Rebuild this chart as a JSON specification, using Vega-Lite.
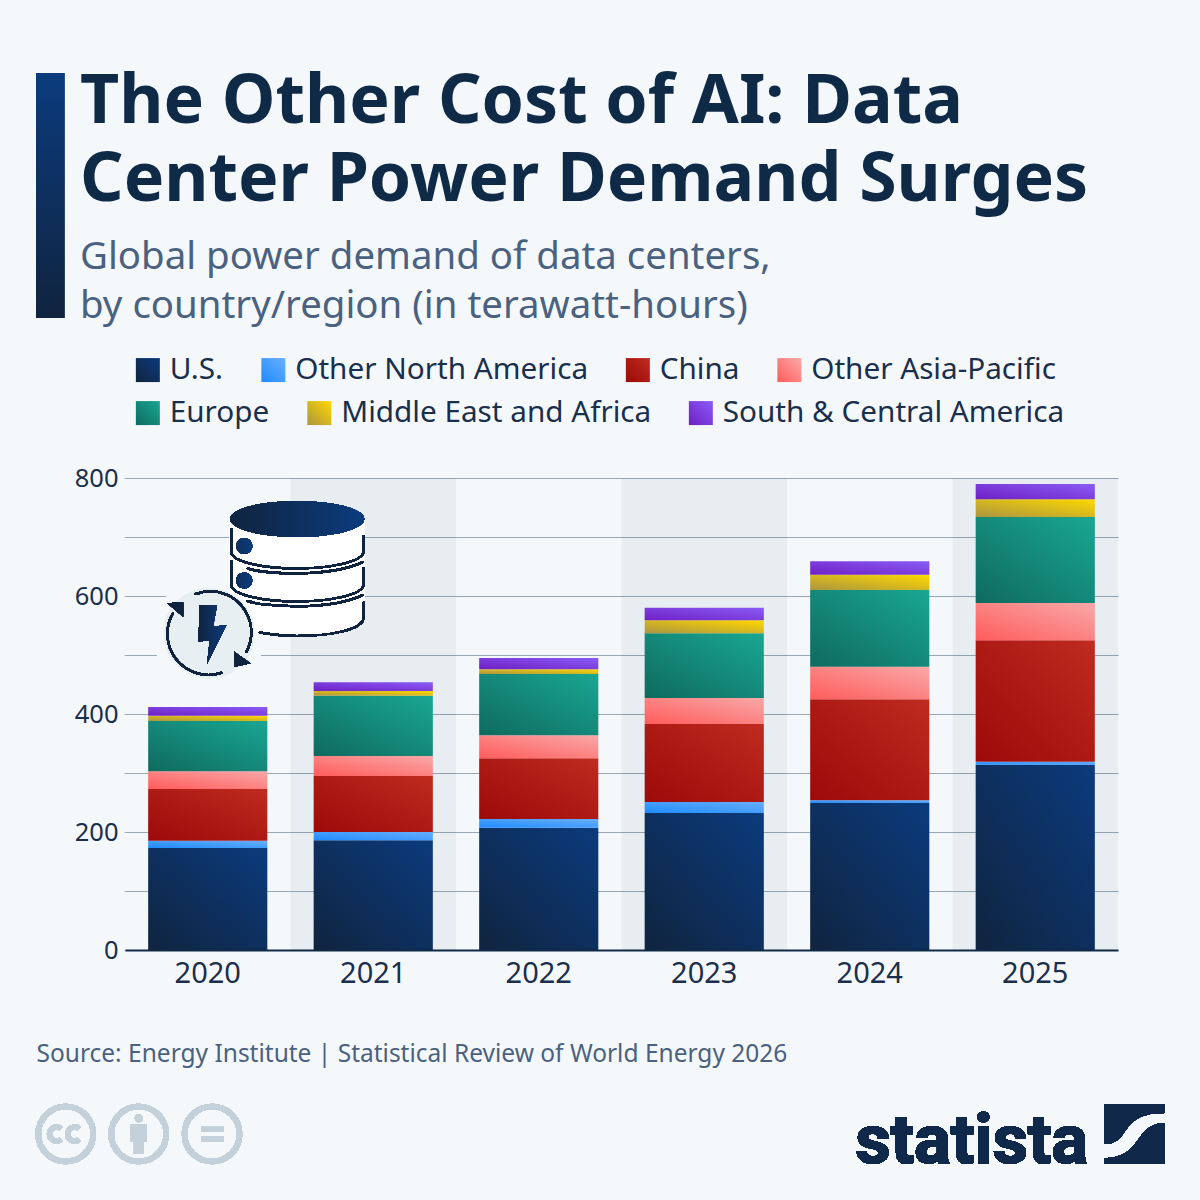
{
  "$schema": "https://vega.github.io/schema/vega-lite/v6.json",
  "width": 993,
  "height": 472,
  "autosize": "none",
  "padding": {"left": 125, "top": 478, "right": 82, "bottom": 250},
  "background": "#f5f8fb",
  "config": {"view": {"stroke": null}},
  "title": {
    "text": ["The Other Cost of AI: Data", "Center Power Demand Surges"],
    "subtitle": ["Global power demand of data centers,", "by country/region (in terawatt-hours)"],
    "anchor": "start",
    "frame": "group",
    "dx": -45,
    "dy": 280,
    "offset": 28,
    "font": "Noto Sans",
    "fontSize": 68,
    "fontWeight": "bold",
    "lineHeight": 78,
    "color": "#0f2a47",
    "subtitleFont": "Noto Sans",
    "subtitleFontSize": 38.4,
    "subtitleLineHeight": 48.5,
    "subtitleColor": "#4a6280",
    "subtitlePadding": 24
  },
  "datasets": {
    "bands": [{"year": "2021"}, {"year": "2023"}, {"year": "2025"}],
    "demand": [
      {"year": "2020", "region": "U.S.", "rank": 1, "twh": 173},
      {"year": "2020", "region": "Other North America", "rank": 2, "twh": 12},
      {"year": "2020", "region": "China", "rank": 3, "twh": 88},
      {"year": "2020", "region": "Other Asia-Pacific", "rank": 4, "twh": 30},
      {"year": "2020", "region": "Europe", "rank": 5, "twh": 85},
      {"year": "2020", "region": "Middle East and Africa", "rank": 6, "twh": 9},
      {"year": "2020", "region": "South & Central America", "rank": 7, "twh": 15},
      {"year": "2021", "region": "U.S.", "rank": 1, "twh": 186},
      {"year": "2021", "region": "Other North America", "rank": 2, "twh": 14},
      {"year": "2021", "region": "China", "rank": 3, "twh": 95},
      {"year": "2021", "region": "Other Asia-Pacific", "rank": 4, "twh": 34},
      {"year": "2021", "region": "Europe", "rank": 5, "twh": 102},
      {"year": "2021", "region": "Middle East and Africa", "rank": 6, "twh": 8},
      {"year": "2021", "region": "South & Central America", "rank": 7, "twh": 15},
      {"year": "2022", "region": "U.S.", "rank": 1, "twh": 207},
      {"year": "2022", "region": "Other North America", "rank": 2, "twh": 15},
      {"year": "2022", "region": "China", "rank": 3, "twh": 103},
      {"year": "2022", "region": "Other Asia-Pacific", "rank": 4, "twh": 39},
      {"year": "2022", "region": "Europe", "rank": 5, "twh": 104},
      {"year": "2022", "region": "Middle East and Africa", "rank": 6, "twh": 8},
      {"year": "2022", "region": "South & Central America", "rank": 7, "twh": 19},
      {"year": "2023", "region": "U.S.", "rank": 1, "twh": 232},
      {"year": "2023", "region": "Other North America", "rank": 2, "twh": 19},
      {"year": "2023", "region": "China", "rank": 3, "twh": 132},
      {"year": "2023", "region": "Other Asia-Pacific", "rank": 4, "twh": 44},
      {"year": "2023", "region": "Europe", "rank": 5, "twh": 110},
      {"year": "2023", "region": "Middle East and Africa", "rank": 6, "twh": 22},
      {"year": "2023", "region": "South & Central America", "rank": 7, "twh": 21},
      {"year": "2024", "region": "U.S.", "rank": 1, "twh": 249},
      {"year": "2024", "region": "Other North America", "rank": 2, "twh": 5},
      {"year": "2024", "region": "China", "rank": 3, "twh": 171},
      {"year": "2024", "region": "Other Asia-Pacific", "rank": 4, "twh": 55},
      {"year": "2024", "region": "Europe", "rank": 5, "twh": 130},
      {"year": "2024", "region": "Middle East and Africa", "rank": 6, "twh": 26},
      {"year": "2024", "region": "South & Central America", "rank": 7, "twh": 23},
      {"year": "2025", "region": "U.S.", "rank": 1, "twh": 314},
      {"year": "2025", "region": "Other North America", "rank": 2, "twh": 5},
      {"year": "2025", "region": "China", "rank": 3, "twh": 206},
      {"year": "2025", "region": "Other Asia-Pacific", "rank": 4, "twh": 63},
      {"year": "2025", "region": "Europe", "rank": 5, "twh": 146},
      {"year": "2025", "region": "Middle East and Africa", "rank": 6, "twh": 30},
      {"year": "2025", "region": "South & Central America", "rank": 7, "twh": 26}
    ]
  },
  "data": {"name": "demand"},
  "resolve": {"scale": {"color": "independent"}},
  "layer": [
    {
      "data": {"name": "bands"},
      "mark": {"type": "bar", "color": "#1c4a66", "opacity": 0.06},
      "encoding": {
        "x": {
          "field": "year",
          "type": "nominal",
          "scale": {"domain": ["2020", "2021", "2022", "2023", "2024", "2025"], "paddingInner": 0, "paddingOuter": 0},
          "axis": {
            "title": "Source: Energy Institute | Statistical Review of World Energy 2026",
            "titleFont": "Noto Sans",
            "titleFontSize": 24.5,
            "titleFontWeight": "normal",
            "titleColor": "#4a6280",
            "titleAlign": "left",
            "titleBaseline": "alphabetic",
            "titleX": -89,
            "titleY": 111,
            "labelFont": "Noto Sans",
            "labelFontSize": 29,
            "labelColor": "#1a2f4b",
            "labelAngle": 0,
            "labelPadding": 9,
            "ticks": false,
            "grid": false,
            "domainColor": "#0f2a47",
            "domainWidth": 2,
            "zindex": 1
          }
        },
        "y": {
          "datum": 800,
          "type": "quantitative",
          "scale": {"domain": [0, 800], "nice": false},
          "axis": {
            "title": null,
            "values": [0, 100, 200, 300, 400, 500, 600, 700, 800],
            "labelExpr": "datum.value % 200 == 0 ? datum.label : ''",
            "labelFont": "Noto Sans",
            "labelFontSize": 25.5,
            "labelColor": "#1a2f4b",
            "labelPadding": 6,
            "domain": false,
            "grid": true,
            "tickSize": 1,
            "tickColor": "#9aa7b5",
            "gridColor": "#9aa7b5",
            "gridWidth": 1
          }
        },
        "y2": {"datum": 0}
      }
    },
    {
      "transform": [
        {"stack": "twh", "groupby": ["year"], "sort": [{"field": "rank", "order": "ascending"}], "as": ["y0", "y1"]},
        {"filter": "datum.rank <= 4"}
      ],
      "mark": {"type": "bar", "width": {"band": 0.72}},
      "encoding": {
        "x": {"field": "year", "type": "nominal"},
        "y": {"field": "y0", "type": "quantitative"},
        "y2": {"field": "y1"},
        "color": {
          "field": "region",
          "type": "nominal",
          "scale": {
            "domain": ["U.S.", "Other North America", "China", "Other Asia-Pacific"],
            "range": [
              {"expr": "{gradient:'linear',x1:0,y1:1,x2:1,y2:0,stops:[{offset:0,color:'#10243f'},{offset:1,color:'#0b3b7d'}]}"},
              {"expr": "{gradient:'linear',x1:0,y1:1,x2:1,y2:0,stops:[{offset:0,color:'#1e8cff'},{offset:1,color:'#6aaefc'}]}"},
              {"expr": "{gradient:'linear',x1:0,y1:1,x2:1,y2:0,stops:[{offset:0,color:'#9c0a0a'},{offset:1,color:'#bf2b1f'}]}"},
              {"expr": "{gradient:'linear',x1:0,y1:1,x2:1,y2:0,stops:[{offset:0,color:'#ff5c5c'},{offset:1,color:'#f9a8a8'}]}"}
            ]
          },
          "legend": {
            "title": null,
            "orient": "none",
            "direction": "horizontal",
            "legendX": 8,
            "legendY": -123,
            "columns": 4,
            "symbolType": "square",
            "symbolSize": 576,
            "symbolStrokeWidth": 0,
            "labelFont": "Noto Sans",
            "labelFontSize": 29.7,
            "labelColor": "#1a2f4b",
            "labelOffset": 7,
            "labelLimit": 500,
            "columnPadding": 34.5
          }
        }
      }
    },
    {
      "transform": [
        {"stack": "twh", "groupby": ["year"], "sort": [{"field": "rank", "order": "ascending"}], "as": ["y0", "y1"]},
        {"filter": "datum.rank > 4"}
      ],
      "mark": {"type": "bar", "width": {"band": 0.72}},
      "encoding": {
        "x": {"field": "year", "type": "nominal"},
        "y": {"field": "y0", "type": "quantitative"},
        "y2": {"field": "y1"},
        "color": {
          "field": "region",
          "type": "nominal",
          "scale": {
            "domain": ["Europe", "Middle East and Africa", "South & Central America"],
            "range": [
              {"expr": "{gradient:'linear',x1:0,y1:1,x2:1,y2:0,stops:[{offset:0,color:'#0f6a5f'},{offset:1,color:'#19a793'}]}"},
              {"expr": "{gradient:'linear',x1:0,y1:1,x2:1,y2:0,stops:[{offset:0,color:'#ab9540'},{offset:1,color:'#ffd900'}]}"},
              {"expr": "{gradient:'linear',x1:0,y1:1,x2:1,y2:0,stops:[{offset:0,color:'#6f1fc4'},{offset:1,color:'#8a5cf6'}]}"}
            ]
          },
          "legend": {
            "title": null,
            "orient": "none",
            "direction": "horizontal",
            "legendX": 8,
            "legendY": -80,
            "columns": 3,
            "symbolType": "square",
            "symbolSize": 576,
            "symbolStrokeWidth": 0,
            "labelFont": "Noto Sans",
            "labelFontSize": 29.7,
            "labelColor": "#1a2f4b",
            "labelOffset": 7,
            "labelLimit": 500,
            "columnPadding": 34.5
          }
        }
      }
    },
    {
      "mark": {"type": "point", "size": 4, "opacity": 1, "filled": true, "fill": "#f5f8fb", "stroke": null, "shape": "M-54.7,-80.7 A56,56 0 1 1 57.3,-80.7 A56,56 0 1 1 -54.7,-80.7 Z"},
      "encoding": {"x": {"datum": "2020", "type": "nominal"}, "y": {"datum": 400, "type": "quantitative"}}
    },
    {
      "mark": {"type": "point", "size": 4, "opacity": 1, "filled": true, "fill": "#ffffff", "stroke": null, "shape": "M22,-195 V-104 C22,-86 57,-78 89,-78 C122,-78 157,-86 157,-104 V-195 Z"},
      "encoding": {"x": {"datum": "2020", "type": "nominal"}, "y": {"datum": 400, "type": "quantitative"}}
    },
    {
      "mark": {"type": "point", "size": 4, "opacity": 1, "filled": true, "fill": "#e8eff3", "stroke": null, "shape": "M-43.7,-80.7 A45,45 0 1 1 46.3,-80.7 A45,45 0 1 1 -43.7,-80.7 Z"},
      "encoding": {"x": {"datum": "2020", "type": "nominal"}, "y": {"datum": 400, "type": "quantitative"}}
    },
    {
      "mark": {"type": "point", "size": 4, "opacity": 1, "filled": false, "fill": null, "stroke": "#10243f", "strokeWidth": 2, "strokeCap": "round", "shape": "M23.5,-185 V-162 C23.5,-152 57,-145.5 89,-145.5 C122,-145.5 156,-152 156,-163 V-178 M40,-145.5 C57,-140 122,-136 155,-152 M23.5,-153 V-129 C23.5,-119 57,-112.5 89,-112.5 C122,-112.5 156,-119 156,-130 V-146 M40,-113 C57,-107 122,-103 155,-119 M52,-81.5 C67,-79 77,-78 89,-78 C122,-78 156,-84 156,-97 V-111.5 M-12,-120 A41,41 0 0 1 38.7,-62.3 M13.7,-41.3 A41,41 0 0 1 -34.7,-101"},
      "encoding": {"x": {"datum": "2020", "type": "nominal"}, "y": {"datum": 400, "type": "quantitative"}}
    },
    {
      "mark": {"type": "point", "size": 4, "opacity": 1, "filled": true, "stroke": null, "fill": {"gradient": "linear", "x1": 0, "y1": 0, "x2": 1, "y2": 0, "stops": [{"offset": 0, "color": "#10243f"}, {"offset": 1, "color": "#0b3b7d"}]}, "shape": "M22.5,-195 A67,18 0 1 1 156.5,-195 A67,18 0 1 1 22.5,-195 Z"},
      "encoding": {"x": {"datum": "2020", "type": "nominal"}, "y": {"datum": 400, "type": "quantitative"}}
    },
    {
      "mark": {"type": "point", "size": 4, "opacity": 1, "filled": true, "stroke": null, "fill": {"gradient": "linear", "x1": 0, "y1": 0, "x2": 1, "y2": 0, "stops": [{"offset": 0, "color": "#0f2f5c"}, {"offset": 1, "color": "#0b3b7d"}]}, "shape": "M28.5,-168 A8,8 0 1 1 44.5,-168 A8,8 0 1 1 28.5,-168 Z M28.5,-133.5 A8,8 0 1 1 44.5,-133.5 A8,8 0 1 1 28.5,-133.5 Z"},
      "encoding": {"x": {"datum": "2020", "type": "nominal"}, "y": {"datum": 400, "type": "quantitative"}}
    },
    {
      "mark": {"type": "point", "size": 4, "opacity": 1, "filled": true, "stroke": null, "fill": "#10243f", "shape": "M-40.3,-110.7 L-24.7,-111.7 L-24.7,-97.3 Z M26.3,-62.3 L42.7,-50.7 L27,-47.3 Z"},
      "encoding": {"x": {"datum": "2020", "type": "nominal"}, "y": {"datum": 400, "type": "quantitative"}}
    },
    {
      "mark": {"type": "point", "size": 4, "opacity": 1, "filled": true, "stroke": null, "fill": {"gradient": "linear", "x1": 0, "y1": 0, "x2": 1, "y2": 0, "stops": [{"offset": 0, "color": "#10243f"}, {"offset": 1, "color": "#0b3b7d"}]}, "shape": "M-8,-109 L9.3,-109 L5.3,-87.3 L18.7,-89 L-0.7,-50 L2,-74 L-9.3,-72.3 Z"},
      "encoding": {"x": {"datum": "2020", "type": "nominal"}, "y": {"datum": 400, "type": "quantitative"}}
    },
    {
      "mark": {"type": "point", "size": 4, "opacity": 1, "filled": true, "stroke": null, "fill": {"gradient": "linear", "x1": 0, "y1": 0, "x2": 0, "y2": 1, "stops": [{"offset": 0, "color": "#0b3b7d"}, {"offset": 1, "color": "#10243f"}]}, "shape": "M-171.7,-641 H-143.7 V-396 H-171.7 Z"},
      "encoding": {"x": {"datum": "2020", "type": "nominal"}, "y": {"datum": 400, "type": "quantitative"}}
    },
    {
      "mark": {"type": "point", "size": 4, "opacity": 1, "filled": false, "fill": null, "stroke": "#c5d1da", "strokeWidth": 5.5, "shape": "M-169.5,184 A27.5,27.5 0 1 1 -114.5,184 A27.5,27.5 0 1 1 -169.5,184 Z M-96.5,184 A27.5,27.5 0 1 1 -41.5,184 A27.5,27.5 0 1 1 -96.5,184 Z M-23.2,184 A27.5,27.5 0 1 1 31.8,184 A27.5,27.5 0 1 1 -23.2,184 Z M-146.8,178.6 A7,7 0 1 0 -146.8,189.4 M-128.5,178.6 A7,7 0 1 0 -128.5,189.4"},
      "encoding": {"x": {"datum": "2020", "type": "nominal"}, "y": {"datum": 0, "type": "quantitative"}}
    },
    {
      "mark": {"type": "point", "size": 4, "opacity": 1, "filled": true, "fill": "#c5d1da", "stroke": null, "shape": "M-73,168.3 A4,4 0 1 1 -65,168.3 A4,4 0 1 1 -73,168.3 Z M-77,174.3 H-61 V191.7 H-64 V203.3 H-74 V191.7 H-77 Z M-6.7,176.7 H15.7 V181.7 H-6.7 Z M-6.7,186.3 H15.7 V191.7 H-6.7 Z"},
      "encoding": {"x": {"datum": "2020", "type": "nominal"}, "y": {"datum": 0, "type": "quantitative"}}
    },
    {
      "mark": {"type": "point", "size": 4, "opacity": 1, "filled": true, "fill": "#10294a", "stroke": null, "shape": "M69,154 H129 V163 C100,163 95,174 87,185 C81,193 75,194 69,194 Z M129,173 V214 H69 V208 C90,208 97,198 105,187 C111,178 119,173 129,173 Z"},
      "encoding": {"x": {"datum": "2025", "type": "nominal"}, "y": {"datum": 0, "type": "quantitative"}}
    },
    {
      "mark": {"type": "text", "text": "statista", "font": "Roboto", "fontWeight": "bold", "fontSize": 69, "align": "right", "baseline": "alphabetic", "dx": 53, "dy": 213, "color": "#10294a", "stroke": "#10294a", "strokeWidth": 1},
      "encoding": {"x": {"datum": "2025", "type": "nominal"}, "y": {"datum": 0, "type": "quantitative"}}
    }
  ]
}
